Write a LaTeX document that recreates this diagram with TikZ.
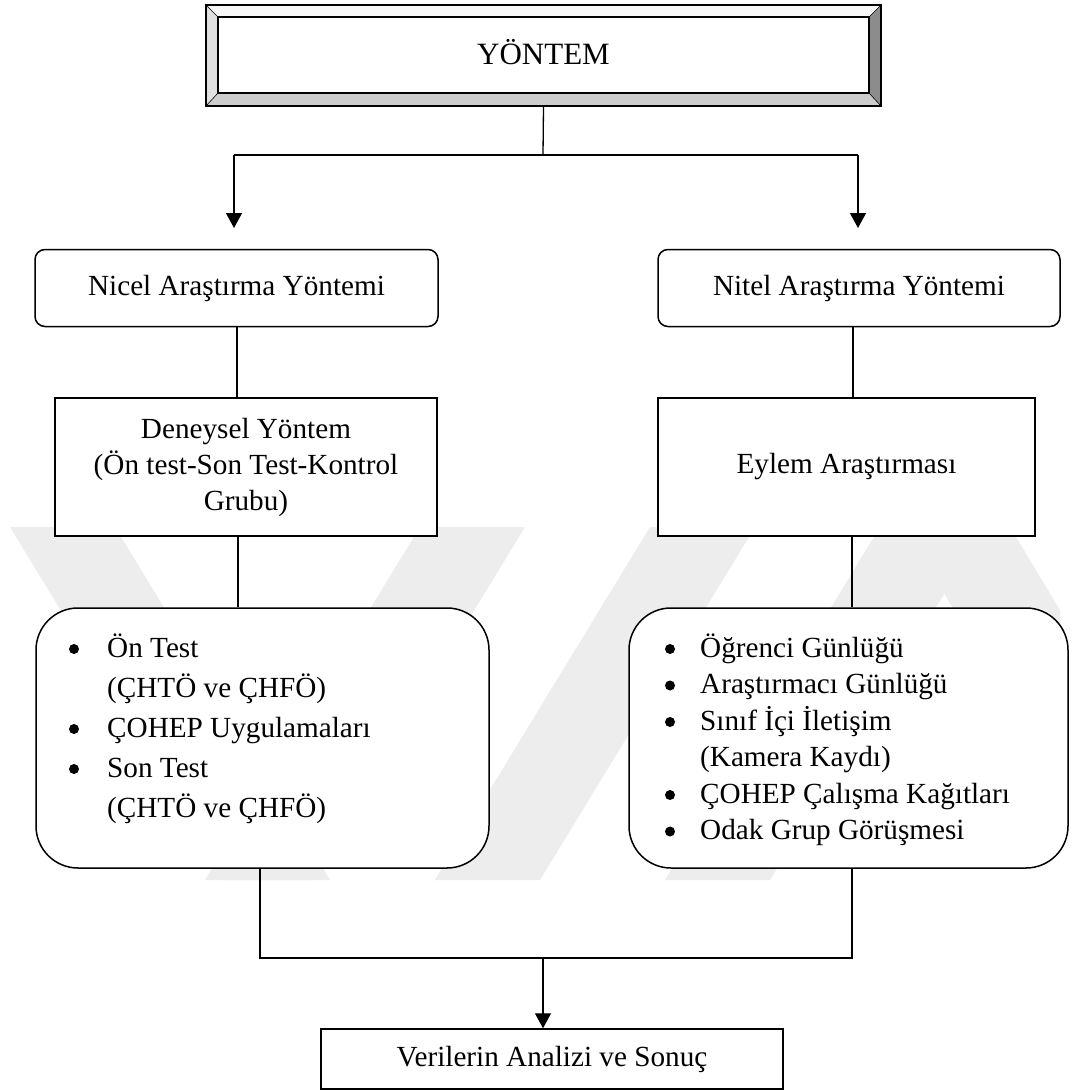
\documentclass[tikz,border=0pt]{standalone}
\usepackage{fontspec}
\setmainfont{Liberation Serif}
\usetikzlibrary{arrows.meta}
\tikzset{
  conn/.style={line width=1.3pt, black},
  arr/.style={conn, -{Triangle[width=16pt,length=15pt]}},
  sqbox/.style={draw, line width=1.5pt, fill=white, inner sep=0pt, align=center},
  rbox/.style={sqbox, rounded corners=10pt},
  bigr/.style={sqbox, rounded corners=42pt},
  txt/.style={font=\fontsize{29.2pt}{36pt}\selectfont},
  li/.style={txt, inner sep=0pt, anchor=base west},
  blt/.style={fill=black},
  wm/.style={fill=black!7, draw=none}
}
\begin{document}
\begin{tikzpicture}[x=1pt,y=-1pt]
\useasboundingbox (0,0) rectangle (1072,1090);
\fill[white] (0,0) rectangle (1072,1090);
% watermark
\fill[wm] (10,527) -- (115,527) -- (330,880) -- (225,880) -- cycle;
\fill[wm] (420,527) -- (525,527) -- (310,880) -- (205,880) -- cycle;
\fill[wm] (650,527) -- (755,527) -- (540,880) -- (435,880) -- cycle;
\fill[wm] (880,527) -- (985,527) -- (770,880) -- (665,880) -- cycle;
\fill[wm] (905,527) -- (1010,527) -- (1060,610) -- (1060,790) -- cycle;
% top bevel box
\node[inner sep=0pt, minimum width=675pt, minimum height=101pt] (top) at (543.5,55.5) {};
\fill[black!3] (206,5) -- (881,5) -- (869,17) -- (218,17) -- cycle;
\fill[black!12] (206,5) -- (218,17) -- (218,93) -- (206,106) -- cycle;
\fill[black!20] (206,106) -- (218,93) -- (869,93) -- (881,106) -- cycle;
\fill[black!45] (881,5) -- (881,106) -- (869,93) -- (869,17) -- cycle;
\draw[line width=1.3pt] (206,5) rectangle (881,106);
\draw[line width=1.3pt] (218,17) rectangle (869,93);
\draw[line width=0.6pt] (206,5) -- (218,17) (881,5) -- (869,17) (206,106) -- (218,93) (881,106) -- (869,93);
\node[font=\fontsize{31pt}{36pt}\selectfont] (toptext) at (543.5,52.5) {YÖNTEM};
% level 2
\node[rbox, txt, minimum width=403pt, minimum height=77pt] (nicel) at (236.5,288) {Nicel Araştırma Yöntemi};
\node[rbox, txt, minimum width=402pt, minimum height=77pt] (nitel) at (859,288) {Nitel Araştırma Yöntemi};
% level 3
\node[sqbox, txt, minimum width=382pt, minimum height=138pt] (deney) at (246,467)
  {Deneysel Yöntem\\(Ön test-Son Test-Kontrol\\Grubu)};
\node[sqbox, txt, minimum width=377pt, minimum height=138pt] (eylem) at (846.5,467) {Eylem Araştırması};
% level 4
\node[bigr, minimum width=453pt, minimum height=260pt] (left) at (262.5,738) {};
\node[bigr, minimum width=439pt, minimum height=260pt] (right) at (848.5,738) {};
% left list
\node[li] (l1) at (107,657) {Ön Test};
\node[li] (l2) at (107,697) {(ÇHTÖ ve ÇHFÖ)};
\node[li] (l3) at (107,737) {ÇOHEP Uygulamaları};
\node[li] (l4) at (107,777) {Son Test};
\node[li] (l5) at (107,817) {(ÇHTÖ ve ÇHFÖ)};
\fill[blt] (74,649) circle (5pt) (74,729) circle (5pt) (74,769) circle (5pt);
% right list
\node[li] (r1) at (700,657) {Öğrenci Günlüğü};
\node[li] (r2) at (700,693.5) {Araştırmacı Günlüğü};
\node[li] (r3) at (700,730) {Sınıf İçi İletişim};
\node[li] (r4) at (700,766.5) {(Kamera Kaydı)};
\node[li] (r5) at (700,803) {ÇOHEP Çalışma Kağıtları};
\node[li] (r6) at (700,839.5) {Odak Grup Görüşmesi};
\fill[blt] (670,649) circle (5pt) (670,685.5) circle (5pt) (670,722) circle (5pt)
  (670,795) circle (5pt) (670,831.5) circle (5pt);
% bottom
\node[sqbox, txt, minimum width=462pt, minimum height=60pt] (sonuc) at (552,1059) {Verilerin Analizi ve Sonuç};
% connectors
\coordinate (split) at (543,155);
\coordinate (splitL) at (234,155);
\coordinate (splitR) at (858,155);
\coordinate (tipL) at (234,228);
\coordinate (tipR) at (858,228);
\draw[conn] (top.south) -- (split);
\draw[conn] (splitL) -- (splitR);
\draw[arr] (splitL) -- (tipL);
\draw[arr] (splitR) -- (tipR);
\draw[conn] (nicel.south -| 237,0) -- (deney.north -| 237,0);
\draw[conn] (nitel.south -| 853,0) -- (eylem.north -| 853,0);
\draw[conn] (deney.south -| 238,0) -- (left.north -| 238,0);
\draw[conn] (eylem.south -| 852,0) -- (right.north -| 852,0);
\coordinate (joinL) at (260,958);
\coordinate (joinR) at (852,958);
\coordinate (joinM) at (543,958);
\draw[conn] (left.south -| joinL) -- (joinL) -- (joinR) -- (right.south -| joinR);
\draw[arr] (joinM) -- (sonuc.north -| joinM);
\end{tikzpicture}
\end{document}
